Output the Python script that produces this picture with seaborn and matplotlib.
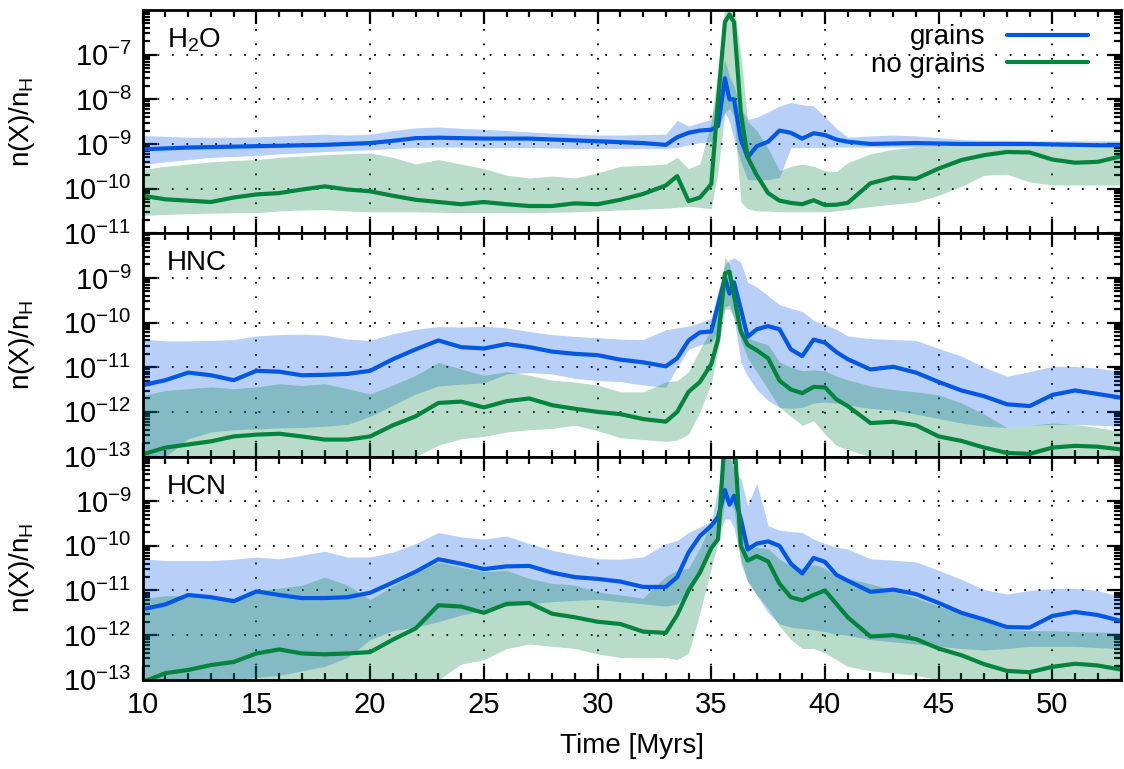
import numpy as np
import pandas as pd
import matplotlib
matplotlib.use("Agg")
import matplotlib.pyplot as plt
import matplotlib.ticker as mticker
import seaborn as sns

# time axis [Myrs], shared by all series
time = [10, 11, 12, 13, 14, 15, 16, 17, 18, 19,
        20, 21, 22, 23, 24, 25, 26, 27, 28, 29,
        30, 31, 32, 33, 33.5, 34, 34.5, 35,
        35.3, 35.6, 35.8, 36.0, 36.3, 36.6,
        37, 37.5, 38, 38.5, 39, 39.5, 40, 40.5,
        41, 42, 43, 44, 45, 46, 47, 48, 49, 50, 51, 52, 53]

# log10 abundances: median, lower and upper envelope
# --- H2O ---
h2o_gr = [-9.12, -9.10, -9.08, -9.07, -9.06, -9.05, -9.04, -9.03, -9.02, -9.00,
          -8.98, -8.93, -8.87, -8.86, -8.87, -8.88, -8.88, -8.88, -8.90, -8.92,
          -8.94, -8.96, -8.98, -9.02, -8.85, -8.75, -8.70, -8.68,
          -8.60, -7.53, -8.00, -8.00, -8.90, -9.30,
          -9.05, -8.95, -8.70, -8.75, -8.88, -8.76, -8.80, -8.90,
          -8.95, -9.00, -8.99, -8.98, -8.99, -9.00, -9.00, -9.00, -9.00, -9.01, -9.02, -9.03, -9.03]
h2o_gr_hi = [-8.81, -8.83, -8.85, -8.85, -8.85, -8.84, -8.82, -8.80, -8.78, -8.80,
             -8.78, -8.70, -8.64, -8.62, -8.65, -8.67, -8.70, -8.73, -8.76, -8.78,
             -8.80, -8.80, -8.79, -8.78, -8.47, -8.60, -8.52, -8.45,
             -7.80, -7.10, -7.50, -7.70, -8.20, -8.45,
             -8.40, -8.28, -8.15, -8.07, -8.12, -8.15, -8.40, -8.65,
             -8.85, -8.82, -8.80, -8.82, -8.86, -8.90, -8.92, -8.92, -8.93, -8.93, -8.93, -8.93, -8.93]
h2o_gr_lo = [-9.46, -9.40, -9.35, -9.30, -9.28, -9.26, -9.22, -9.20, -9.17, -9.15,
             -9.13, -9.10, -9.08, -9.07, -9.07, -9.08, -9.08, -9.08, -9.09, -9.10,
             -9.10, -9.10, -9.10, -9.10, -9.08, -9.02, -8.97, -8.95,
             -8.60, -8.30, -8.50, -8.90, -9.40, -9.80,
             -9.80, -9.80, -9.75, -9.08, -9.08, -9.08, -9.08, -9.07,
             -9.07, -9.07, -9.07, -9.07, -9.07, -9.07, -9.07, -9.07, -9.07, -9.07, -9.07, -9.07, -9.07]
h2o_ng = [-10.16, -10.24, -10.27, -10.30, -10.20, -10.13, -10.10, -10.02, -9.95, -10.02,
          -10.06, -10.16, -10.25, -10.30, -10.35, -10.30, -10.35, -10.39, -10.39, -10.33,
          -10.35, -10.25, -10.12, -9.93, -9.72, -10.28, -10.20, -9.90,
          -8.00, -6.27, -6.10, -6.27, -8.30, -9.30,
          -9.70, -10.10, -10.27, -10.32, -10.35, -10.26, -10.37, -10.36,
          -10.32, -9.88, -9.75, -9.78, -9.55, -9.36, -9.25, -9.18, -9.19, -9.35, -9.42, -9.40, -9.28]
h2o_ng_hi = [-9.57, -9.50, -9.45, -9.40, -9.37, -9.35, -9.30, -9.27, -9.24, -9.22,
             -9.20, -9.30, -9.45, -9.35, -9.45, -9.55, -9.70, -9.76, -9.72, -9.76,
             -9.65, -9.50, -9.48, -9.45, -9.30, -9.55, -9.45, -8.50,
             -7.30, -5.90, -5.90, -5.90, -7.00, -8.50,
             -8.70, -9.10, -9.60, -9.50, -9.45, -9.50, -9.60, -9.62,
             -9.42, -9.22, -9.12, -9.07, -9.07, -9.07, -9.07, -9.07, -9.07, -9.07, -9.07, -9.07, -9.07]
h2o_ng_lo = [-10.60, -10.58, -10.56, -10.55, -10.54, -10.54, -10.50, -10.48, -10.47, -10.50,
             -10.52, -10.52, -10.52, -10.53, -10.54, -10.54, -10.54, -10.54, -10.53, -10.52,
             -10.50, -10.48, -10.46, -10.44, -10.42, -10.40, -10.42, -10.45,
             -9.60, -8.30, -8.20, -8.40, -10.30, -10.45,
             -10.50, -10.50, -10.52, -10.52, -10.52, -10.52, -10.52, -10.50,
             -10.47, -10.40, -10.35, -10.30, -10.15, -9.95, -9.70, -9.68, -9.85, -9.92, -9.92, -9.92, -9.92]

# --- HNC ---
hnc_gr = [-11.40, -11.29, -11.12, -11.18, -11.29, -11.08, -11.10, -11.18, -11.17, -11.15,
          -11.08, -10.82, -10.60, -10.40, -10.55, -10.58, -10.48, -10.55, -10.65, -10.70,
          -10.73, -10.83, -10.89, -10.98, -10.80, -10.40, -10.22, -10.20,
          -9.60, -9.00, -9.35, -9.10, -9.70, -10.32,
          -10.15, -10.08, -10.15, -10.60, -10.75, -10.38, -10.45, -10.66,
          -10.82, -11.05, -10.99, -11.12, -11.33, -11.52, -11.65, -11.83, -11.87, -11.62, -11.52, -11.60, -11.68]
hnc_gr_hi = [-10.37, -10.41, -10.41, -10.40, -10.38, -10.30, -10.27, -10.26, -10.28, -10.37,
             -10.40, -10.25, -10.15, -10.09, -10.10, -10.08, -10.12, -10.20, -10.27, -10.31,
             -10.34, -10.37, -10.38, -10.16, -10.12, -10.08, -10.00, -9.90,
             -9.30, -8.70, -8.60, -8.55, -8.65, -9.10,
             -9.20, -9.40, -9.60, -9.68, -9.75, -9.95, -10.05, -10.15,
             -10.30, -10.36, -10.38, -10.40, -10.58, -10.75, -11.00, -11.20, -11.10, -10.98, -10.98, -11.02, -11.10]
hnc_gr_lo = [-13.30, -13.00, -12.60, -12.45, -12.40, -12.38, -12.36, -12.35, -12.32, -12.28,
             -12.10, -11.85, -11.60, -11.42, -11.38, -11.35, -11.15, -11.12, -11.15, -11.25,
             -11.30, -11.32, -11.40, -11.45, -11.00, -10.60, -10.50, -10.45,
             -10.20, -9.65, -9.60, -9.90, -10.90, -11.20,
             -11.50, -11.75, -11.90, -11.92, -11.90, -11.80, -11.78, -11.80,
             -11.85, -11.92, -11.96, -12.05, -12.15, -12.25, -12.32, -12.35, -12.30, -12.28, -12.28, -12.30, -12.32]
hnc_ng = [-12.95, -12.80, -12.73, -12.66, -12.55, -12.51, -12.49, -12.55, -12.62, -12.62,
          -12.55, -12.30, -12.10, -11.80, -11.77, -11.90, -11.76, -11.70, -11.85, -11.93,
          -12.00, -12.05, -12.16, -12.22, -12.00, -11.55, -11.33, -10.93,
          -10.37, -8.90, -8.86, -9.40, -10.20, -10.50,
          -10.62, -10.80, -11.30, -11.50, -11.58, -11.44, -11.45, -11.72,
          -11.87, -12.25, -12.22, -12.30, -12.55, -12.65, -12.80, -12.92, -12.94, -12.80, -12.76, -12.78, -12.84]
hnc_ng_hi = [-11.63, -11.52, -11.48, -11.44, -11.48, -11.44, -11.37, -11.41, -11.37, -11.48,
             -11.60, -11.40, -11.18, -10.89, -11.04, -11.18, -11.10, -11.18, -11.29, -11.33,
             -11.40, -11.55, -11.55, -11.33, -11.30, -11.10, -10.60, -10.15,
             -9.70, -8.53, -8.70, -9.20, -10.10, -10.35,
             -10.42, -10.50, -10.88, -11.00, -11.08, -11.06, -11.08, -11.20,
             -11.28, -11.42, -11.50, -11.55, -11.62, -11.80, -12.05, -12.35, -12.30, -12.25, -12.28, -12.35, -12.44]
hnc_ng_lo = [-13.50, -13.40, -13.30, -13.20, -13.10, -13.05, -13.00, -13.00, -13.00, -13.00,
             -13.00, -13.00, -13.00, -12.75, -12.60, -12.55, -12.45, -12.40, -12.37, -12.30,
             -12.42, -12.58, -12.62, -12.66, -12.63, -12.50, -12.00, -11.35,
             -10.60, -9.70, -9.70, -9.90, -10.40, -10.80,
             -11.10, -11.50, -11.90, -12.10, -12.30, -12.20, -12.50, -12.75,
             -12.85, -13.00, -13.05, -13.05, -13.10, -13.20, -13.25, -13.30, -13.30, -13.30, -13.30, -13.30, -13.30]

# --- HCN ---
hcn_gr = [-11.42, -11.31, -11.10, -11.15, -11.24, -11.02, -11.10, -11.17, -11.17, -11.15,
          -11.05, -10.82, -10.58, -10.30, -10.40, -10.52, -10.46, -10.45, -10.60, -10.70,
          -10.74, -10.80, -10.92, -10.92, -10.70, -10.15, -9.78, -9.55,
          -9.35, -8.75, -9.08, -8.88, -9.40, -10.08,
          -9.95, -9.90, -10.00, -10.40, -10.62, -10.27, -10.36, -10.65,
          -10.78, -11.03, -10.98, -11.08, -11.28, -11.50, -11.65, -11.82, -11.83, -11.57, -11.48, -11.55, -11.68]
hcn_gr_hi = [-10.29, -10.33, -10.33, -10.33, -10.30, -10.25, -10.29, -10.21, -10.12, -10.25,
             -10.25, -10.14, -9.95, -9.70, -9.80, -9.85, -9.78, -9.95, -10.10, -10.20,
             -10.29, -10.30, -10.25, -9.95, -9.88, -9.70, -9.58, -9.45,
             -8.70, -8.00, -8.00, -8.30, -8.50, -9.10,
             -8.60, -9.55, -9.65, -9.68, -9.70, -9.85, -9.95, -10.03,
             -10.07, -10.29, -10.32, -10.36, -10.55, -10.75, -10.98, -11.08, -11.00, -10.95, -10.95, -11.00, -11.14]
hcn_gr_lo = [-13.30, -13.20, -13.10, -13.05, -13.00, -12.95, -12.90, -12.80, -12.70, -12.50,
             -12.10, -11.90, -11.82, -11.70, -11.55, -11.45, -11.35, -11.30, -11.25, -11.22,
             -11.20, -11.25, -11.30, -11.35, -11.30, -11.00, -10.50, -10.10,
             -9.80, -9.40, -9.40, -9.60, -10.30, -10.80,
             -11.10, -11.50, -11.75, -11.82, -11.85, -11.88, -11.92, -11.98,
             -12.00, -12.10, -12.15, -12.20, -12.25, -12.30, -12.33, -12.30, -12.25, -12.25, -12.25, -12.28, -12.30]
hcn_ng = [-13.05, -12.85, -12.78, -12.67, -12.60, -12.41, -12.32, -12.41, -12.43, -12.41,
          -12.38, -12.10, -11.85, -11.33, -11.36, -11.50, -11.30, -11.28, -11.52, -11.60,
          -11.70, -11.75, -11.92, -11.95, -11.55, -11.00, -10.60, -10.05,
          -9.85, -7.50, -7.00, -7.50, -10.00, -10.33,
          -10.23, -10.35, -10.85, -11.15, -11.22, -11.10, -11.00, -11.30,
          -11.60, -12.03, -12.00, -12.09, -12.30, -12.45, -12.65, -12.80, -12.83, -12.71, -12.64, -12.68, -12.77]
hcn_ng_hi = [-11.17, -11.12, -11.10, -11.12, -11.17, -11.00, -10.95, -10.88, -10.70, -10.88,
             -11.20, -10.90, -10.62, -10.36, -10.48, -10.58, -10.55, -10.73, -10.84, -10.88,
             -11.03, -11.10, -11.17, -10.68, -10.55, -10.50, -10.05, -9.50,
             -9.20, -7.00, -6.80, -7.00, -9.60, -10.07,
             -10.03, -10.06, -10.30, -10.45, -10.50, -10.42, -10.50, -10.70,
             -10.73, -10.85, -11.00, -11.17, -11.35, -11.50, -11.67, -11.88, -11.90, -11.90, -11.92, -11.93, -11.95]
hcn_ng_lo = [-13.50, -13.40, -13.30, -13.30, -13.20, -13.20, -13.20, -13.20, -13.20, -13.20,
             -13.20, -13.15, -13.10, -13.00, -12.65, -12.55, -12.30, -12.20, -12.25, -12.30,
             -12.42, -12.50, -12.50, -12.50, -12.55, -12.40, -11.50, -10.50,
             -9.90, -9.00, -9.00, -9.20, -10.40, -10.80,
             -11.10, -11.40, -11.80, -12.10, -12.30, -12.30, -12.40, -12.55,
             -12.70, -12.80, -12.85, -12.90, -13.00, -13.10, -13.15, -13.20, -13.20, -13.20, -13.20, -13.20, -13.20]

species = ["H$_2$O", "HNC", "HCN"]
ylims = [(-11, -6), (-13, -8), (-13, -8)]
yticks = [[-11, -10, -9, -8, -7], [-13, -12, -11, -10, -9], [-13, -12, -11, -10, -9]]
series = [
    (h2o_gr, h2o_gr_lo, h2o_gr_hi, h2o_ng, h2o_ng_lo, h2o_ng_hi),
    (hnc_gr, hnc_gr_lo, hnc_gr_hi, hnc_ng, hnc_ng_lo, hnc_ng_hi),
    (hcn_gr, hcn_gr_lo, hcn_gr_hi, hcn_ng, hcn_ng_lo, hcn_ng_hi),
]

BLUE = "#0057e4"
GREEN = "#00843e"

sns.set_theme(style="ticks")
plt.rcParams["font.family"] = ["Liberation Sans", "DejaVu Sans"]
plt.rcParams["mathtext.fontset"] = "custom"
plt.rcParams["mathtext.rm"] = "Liberation Sans"
plt.rcParams["mathtext.it"] = "Liberation Sans:italic"
plt.rcParams["mathtext.bf"] = "Liberation Sans:bold"
for key in ["text.color", "axes.labelcolor", "xtick.color", "ytick.color", "axes.edgecolor"]:
    plt.rcParams[key] = "black"

fig, axes = plt.subplots(3, 1, figsize=(11.24, 7.69), dpi=100, sharex=True)
fig.subplots_adjust(left=0.127, right=0.997, top=0.987, bottom=0.116, hspace=0)

for i, ax in enumerate(axes):
    gr, gr_lo, gr_hi, ng, ng_lo, ng_hi = [10.0 ** np.array(s) for s in series[i]]
    df = pd.DataFrame({"time": time, "grains": gr, "no grains": ng})

    ax.fill_between(time, gr_lo, gr_hi, color=BLUE, alpha=0.28, lw=0)
    ax.fill_between(time, ng_lo, ng_hi, color=GREEN, alpha=0.28, lw=0)
    sns.lineplot(data=df, x="time", y="grains", ax=ax, color=BLUE, lw=3,
                 label="grains" if i == 0 else None, legend=False)
    sns.lineplot(data=df, x="time", y="no grains", ax=ax, color=GREEN, lw=3,
                 label="no grains" if i == 0 else None, legend=False)

    ax.set_yscale("log")
    ax.set_ylim(10.0 ** ylims[i][0], 10.0 ** ylims[i][1])
    ax.set_xlim(10, 53)
    ax.yaxis.set_major_locator(mticker.FixedLocator([10.0 ** e for e in yticks[i]]))
    ax.yaxis.set_major_formatter(mticker.LogFormatterMathtext())
    ax.yaxis.set_minor_locator(mticker.LogLocator(base=10, subs=np.arange(2, 10), numticks=50))
    ax.yaxis.set_minor_formatter(mticker.NullFormatter())
    ax.xaxis.set_major_locator(mticker.MultipleLocator(5))
    ax.xaxis.set_minor_locator(mticker.MultipleLocator(1))

    ax.grid(True, which="major", color="black", linestyle=(0, (1, 7)), lw=1.3)
    ax.tick_params(which="both", direction="in", top=True, right=True,
                   labelsize=21, width=1.6, pad=8, colors="black")
    ax.tick_params(which="major", length=10)
    ax.tick_params(which="minor", length=5)
    for sp in ax.spines.values():
        sp.set_linewidth(2)
        sp.set_color("black")

    ax.set_ylabel("n(X)/n$_\\mathregular{H}$", fontsize=20)
    ax.yaxis.set_label_coords(-0.108, 0.5)
    ax.set_xlabel("")
    ax.text(0.025, 0.865, species[i], transform=ax.transAxes, fontsize=20,
            va="center", ha="left")

axes[0].legend(loc="upper right", bbox_to_anchor=(0.978, 0.985), frameon=False,
               markerfirst=False, fontsize=20, handlelength=2.9,
               labelspacing=0.05, borderaxespad=0)
axes[2].set_xlabel("Time [Myrs]", fontsize=20, labelpad=10)

fig.savefig("out.png", dpi=100)
